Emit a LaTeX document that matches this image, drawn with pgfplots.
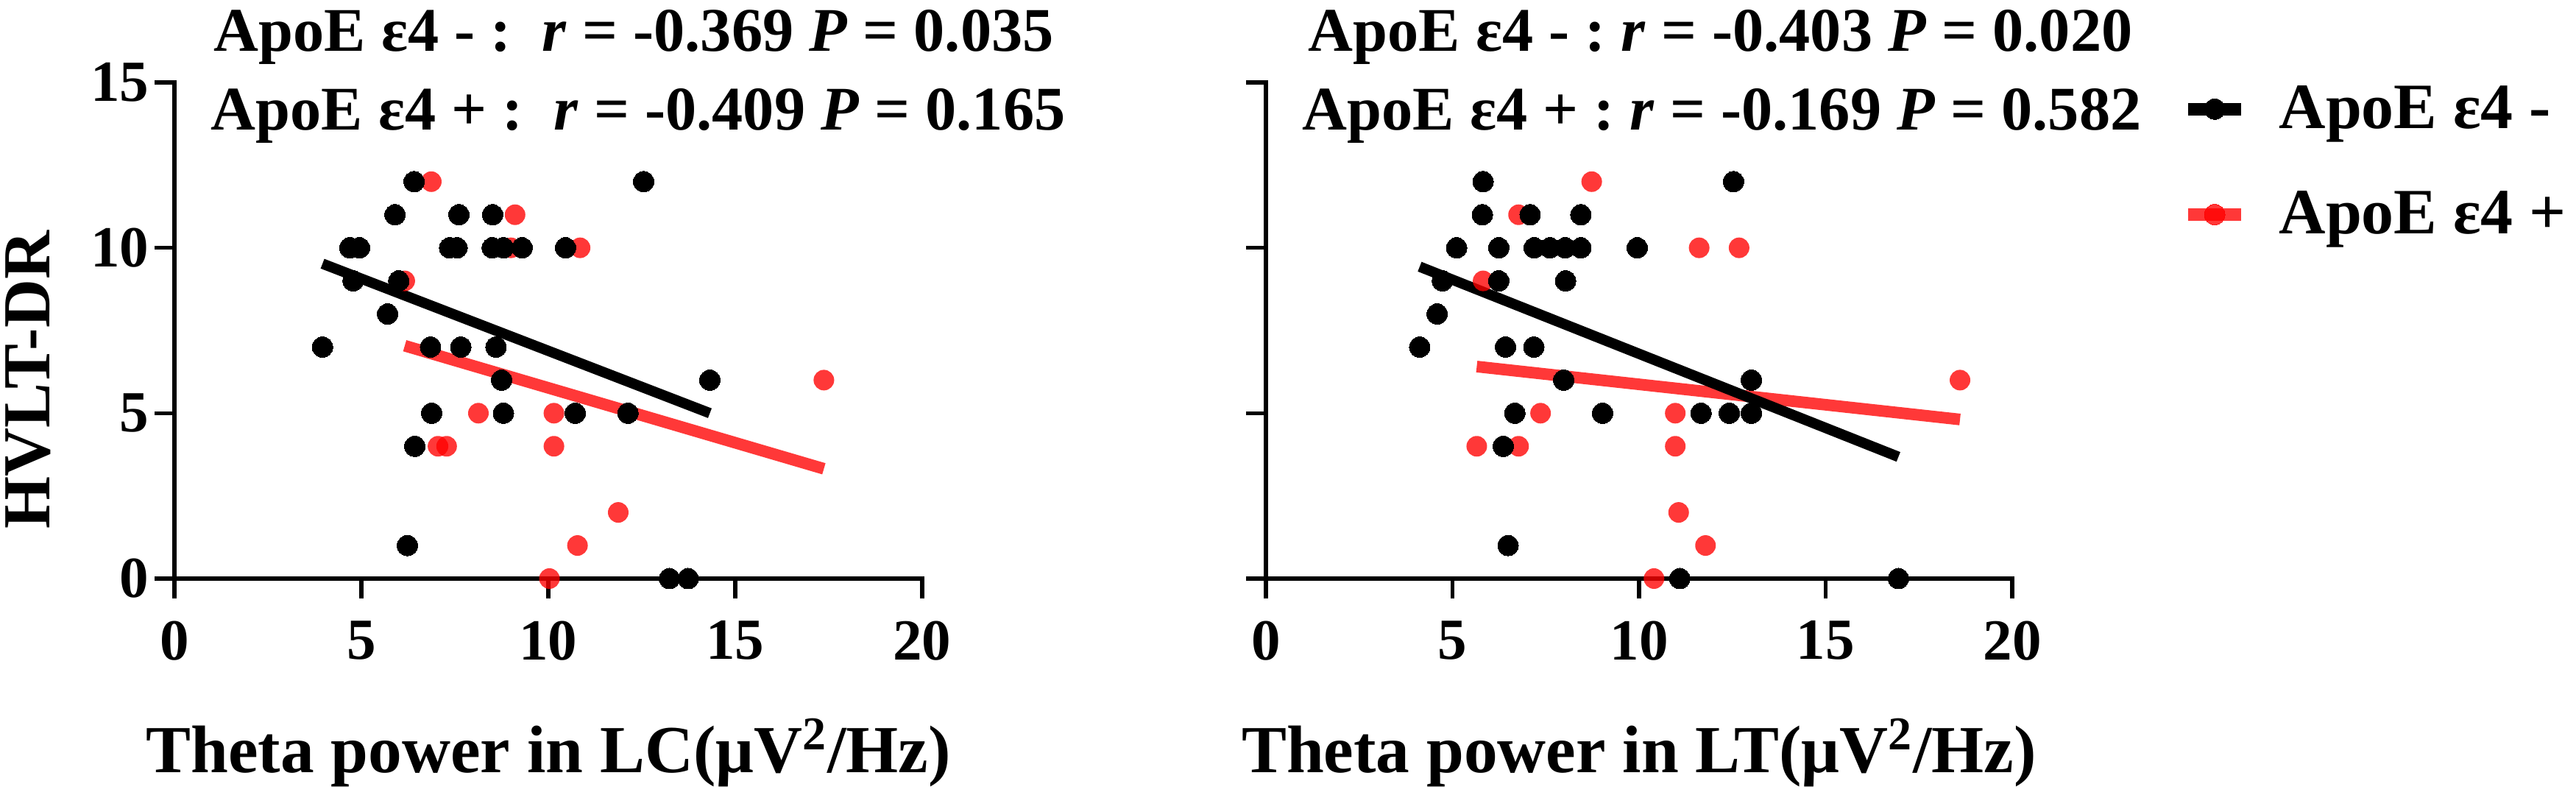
\documentclass[border=0pt]{standalone}
\usepackage{fontspec}
\setmainfont{Liberation Serif}
\usepackage{pgfplots}
\pgfplotsset{compat=1.18}

\pgfplotstableread{
x y
4.69 10
4.95 10
4.78 9
3.96 7
5.70 8
5.90 11
6.41 12
6.00 9
6.23 1
6.43 4
6.85 7
6.88 5
7.36 10
7.56 10
7.61 11
7.66 7
8.50 10
8.51 11
8.60 7
8.75 6
8.80 5
8.80 10
9.30 10
10.46 10
10.72 5
12.13 5
12.55 12
13.24 0
13.74 0
14.32 6
}\LCneg
\pgfplotstableread{
x y
6.87 12
9.11 11
9.00 10
10.85 10
6.16 9
8.13 5
10.15 5
7.05 4
7.28 4
10.15 4
17.37 6
11.87 2
10.78 1
10.03 0
}\LCpos
\pgfplotstableread{
x y
5.82 12
12.53 12
5.80 11
7.08 11
8.44 11
5.11 10
6.24 10
7.19 10
7.61 10
8.02 10
8.44 10
9.95 10
4.73 9
6.24 9
8.03 9
4.59 8
4.12 7
6.42 7
7.18 7
7.98 6
13.01 6
6.67 5
9.02 5
11.66 5
12.42 5
13.01 5
6.36 4
6.49 1
11.09 0
16.95 0
}\LTneg
\pgfplotstableread{
x y
8.73 12
6.77 11
11.61 10
12.68 10
5.82 9
7.36 5
10.97 5
5.65 4
6.77 4
10.97 4
18.60 6
11.06 2
11.78 1
10.40 0
}\LTpos

\pgfplotsset{
  mybase/.style={
    scale only axis, height=67.4mm,
    xmin=0, xmax=20, ymin=0, ymax=15,
    axis lines=left,
    axis line style={-, line width=1.5pt, line cap=rect},
    xtick={0,5,10,15,20}, ytick={0,5,10,15},
    tick align=outside, major tick length=2.7mm,
    major tick style={black, line width=1.5pt},
    /pgf/number format/assume math mode=true,
    tick label style={font=\fontsize{22.5}{27}\selectfont\bfseries},
    xticklabel style={anchor=north, inner sep=0pt},
    yticklabel style={anchor=east, inner sep=0pt},
    xticklabel shift=3mm, yticklabel shift=0.7mm,
    xlabel style={at={(axis description cs:0.5,-0.3917)}, anchor=base,
      font=\fontsize{26}{30}\selectfont\bfseries},
    ylabel style={at={(axis description cs:-0.1959,0.4006)}, anchor=center,
      font=\fontsize{26}{30}\selectfont\bfseries},
    clip=false,
  },
  negpts/.style={black, only marks, mark=*, mark size=1.4mm,
    mark options={fill=black, draw=black, line width=0pt}, forget plot},
  pospts/.style={red, only marks, mark=*, mark size=1.4mm,
    mark options={fill=red, draw=red, fill opacity=0.78, draw opacity=0, line width=0pt}, forget plot},
  negline/.style={black, line width=4pt, no marks, forget plot},
  posline/.style={red, opacity=0.78, line width=4.5pt, no marks, forget plot},
}

\newcommand{\tfont}{\fontsize{24}{28}\selectfont\bfseries}

\begin{document}
\begin{tikzpicture}
\useasboundingbox (0,0) rectangle (350mm,108mm);

\begin{axis}[mybase, width=101.6mm, at={(23.7mm,29.4mm)}, anchor=south west,
  xlabel={Theta power in LC(μV\textsuperscript{2}/Hz)},
  ylabel={HVLT-DR}]
  \addplot[posline] coordinates {(6.16,7.04) (17.37,3.32)};
  \addplot[negline] coordinates {(3.96,9.52) (14.32,5.00)};
  \addplot[pospts] table[x=x,y=y] {\LCpos};
  \addplot[negpts] table[x=x,y=y] {\LCneg};
\end{axis}

\begin{axis}[mybase, width=101.4mm, at={(172.0mm,29.4mm)}, anchor=south west,
  yticklabels={},
  xlabel={Theta power in LT(μV\textsuperscript{2}/Hz)},
  legend cell align=left,
  legend image code/.code={\draw[mark repeat=2,mark phase=2,#1] plot coordinates {(0cm,0cm) (0.36cm,0cm) (0.72cm,0cm)};},
  legend style={draw=none, fill=none, at={(1.2268,0.84)}, anchor=west,
    inner sep=0pt, row sep=8.0mm, nodes={inner sep=0pt},
    font=\fontsize{25}{30}\selectfont\bfseries}]
  \addlegendimage{black, line width=4.8pt, mark=*, mark size=1.4mm, mark options={draw=black, fill=black, line width=0pt}}
  \addlegendentry{\hspace*{4.3mm}ApoE ε4 -}
  \addlegendimage{red, opacity=0.78, line width=4.8pt, mark=*, mark size=1.4mm, mark options={draw=red, fill=red, line width=0pt}}
  \addlegendentry{\hspace*{4.3mm}ApoE ε4 +}
  \addplot[posline] coordinates {(5.65,6.41) (18.60,4.81)};
  \addplot[negline] coordinates {(4.12,9.43) (16.95,3.68)};
  \addplot[pospts] table[x=x,y=y] {\LTpos};
  \addplot[negpts] table[x=x,y=y] {\LTneg};
\end{axis}

\node[anchor=base west, font=\tfont, inner sep=0pt] at (29.0mm,101.0mm)
  {ApoE ε4 - :\ \ \textit{r} = -0.369 \textit{P} = 0.035};
\node[anchor=base west, font=\tfont, inner sep=0pt] at (28.6mm,90.3mm)
  {ApoE ε4 + :\ \ \textit{r} = -0.409 \textit{P} = 0.165};
\node[anchor=base west, font=\tfont, inner sep=0pt] at (177.7mm,101.0mm)
  {ApoE ε4 - :\ \textit{r} = -0.403 \textit{P} = 0.020};
\node[anchor=base west, font=\tfont, inner sep=0pt] at (176.9mm,90.3mm)
  {ApoE ε4 + :\ \textit{r} = -0.169 \textit{P} = 0.582};
\end{tikzpicture}
\end{document}
